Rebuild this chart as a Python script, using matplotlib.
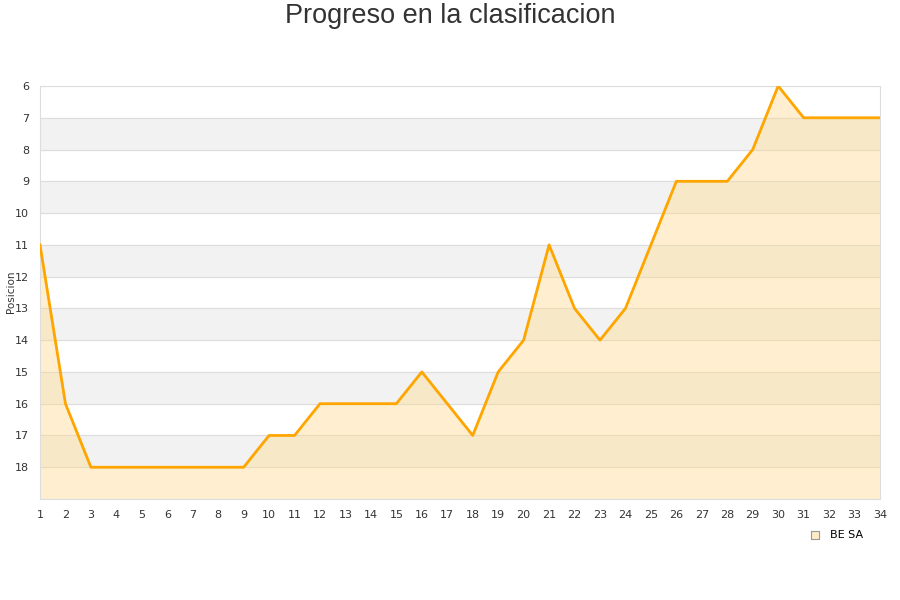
import matplotlib
matplotlib.use("Agg")
import matplotlib.pyplot as plt
import numpy as np

# jornadas y posiciones
jornadas = np.arange(1, 35)
posiciones = [11, 16, 18, 18, 18, 18, 18, 18, 18, 17, 17, 16, 16, 16, 16, 15, 16, 17,
              15, 14, 11, 13, 14, 13, 11, 9, 9, 9, 8, 6, 7, 7, 7, 7]
equipo = "BE SA"

fig = plt.figure(figsize=(9, 6), dpi=100)
ax = fig.add_axes([40/900, 1-499/600, 840/900, 413/600])

# franjas alternas
for y in range(7, 19, 2):
    ax.axhspan(y, y+1, color="#f2f2f2", zorder=0)
for y in range(6, 20):
    ax.axhline(y, color="#dddddd", lw=0.8, zorder=1)

ax.fill_between(jornadas, posiciones, 19, color="#ffd98a", alpha=0.4, lw=0, zorder=2)
ax.plot(jornadas, posiciones, color="#ffa500", lw=2, zorder=3)
ax.scatter([], [], marker="s", s=40, facecolor="#ffebc8", edgecolor="#999999",
           lw=0.8, label=equipo)

ax.set_xlim(1, 34)
ax.set_ylim(19, 6)
ax.set_xticks(jornadas)
ax.set_yticks(range(6, 19))
ax.tick_params(length=0, labelsize=8, colors="#333333", pad=8)
for s in ax.spines.values():
    s.set_color("#dddddd")

# etiqueta del eje y
fig.text(11/900, 1-292/600, "Posicion", rotation=90, ha="center", va="center",
         fontsize=7.5, color="#333333")
fig.text(0.5, 0.973, "Progreso en la clasificacion", ha="center", va="center",
         fontsize=19.5, color="#333333", family="Liberation Sans")

leg = ax.legend(loc="upper right", bbox_to_anchor=(0.985, -0.065), frameon=False,
                fontsize=8, handletextpad=0.3, borderaxespad=0)

fig.savefig("out.png", dpi=100)
